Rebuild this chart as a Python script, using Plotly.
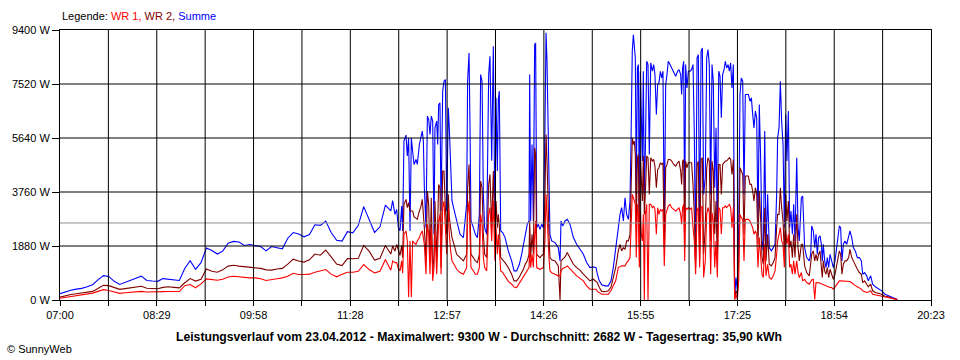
import pandas as pd
import plotly.graph_objects as go

# ---------------- data ----------------
# time of each sample, in minutes after 07:00 on 23.04.2012
minutes_after_7 = [
    0, 5, 10, 15, 20, 25, 30, 35, 40, 45, 50, 55,
    60, 65, 70, 75, 80, 85, 90, 95, 100, 105, 110, 115,
    120, 125, 130, 135, 140, 145, 150, 155, 160, 165, 170, 175,
    180, 185, 190, 195, 200, 205, 210, 215, 220, 225, 230, 235,
    240, 245, 250, 255, 260, 265, 270, 275, 280, 285, 290, 295,
    300, 305,
    306.7, 308.8, 310.4, 311.9, 313.5, 315.0, 315.9, 317.1, 319.0, 320.2, 321.4, 322.7,
    323.9, 325.1, 326.4, 328.2, 329.4, 331.3, 332.5, 334.0, 335.0, 335.9, 337.4, 338.7,
    339.9, 341.1, 342.3, 343.6, 344.8, 345.7, 347.3, 348.2, 349.1, 350.3, 351.3, 352.8,
    354.0, 355.3, 356.5, 358.0, 358.9, 360.2, 361.4, 363.2, 365.7, 368.8, 371.9, 374.9,
    375.8, 377.1, 378.0, 378.9, 381.1, 382.9, 384.8, 386.6, 387.8, 389.1, 390.3, 391.5,
    393.4, 395.2, 396.4, 398.0, 399.5, 401.0, 402.0, 403.2, 404.1,
    405.0, 406.3, 408.1, 410.3, 413.3, 416.4, 418.6, 421.0, 423.5, 425.6, 427.2, 429.0,
    430.8, 432.4, 433.0, 433.9, 435.2, 436.4, 437.6, 438.5, 439.5, 441.0, 442.5, 444.1,
    445.6, 447.1, 448.1, 449.0, 449.9, 450.8, 451.7, 453.3, 456.4, 459.4, 461.0, 461.9,
    463.4, 465.6, 467.7, 470.2, 473.3, 476.3, 479.4, 482.5, 485.5, 488.6, 491.7, 494.2,
    495.4, 497.2,
    499.4, 502.4, 505.5, 508.0, 510.1, 512.3, 514.7, 516.3, 517.8, 519.4, 520.9, 522.4,
    524.0, 525.5, 526.4, 527.6, 528.6, 529.5, 530.4, 531.3, 532.3, 533.2, 534.1, 535.0,
    535.9, 536.9, 537.8, 538.7, 539.6, 540.9, 542.1, 543.3, 544.6, 546.1, 547.3, 548.5,
    549.8, 551.0, 552.2, 553.5, 554.7, 555.9, 557.1, 558.4, 559.6, 560.8, 562.4, 563.9,
    565.8, 567.6, 569.4, 570.7, 572.2, 573.1, 574.0, 575.0, 575.9, 576.8, 578.0, 579.3,
    580.8, 582.3, 583.6, 584.8, 586.0, 587.3, 588.5, 589.7, 591.0, 592.2, 593.4,
    594.9, 596.2, 597.4, 598.6, 599.9, 601.1, 602.3, 603.6, 604.8, 606.0, 607.3, 608.5,
    609.7, 610.9, 612.2, 613.4, 614.6, 615.9, 617.1, 618.3, 619.5, 620.8, 622.0, 623.2,
    624.5, 625.7, 626.9, 628.1, 629.4, 630.6, 631.8, 633.1, 634.6, 636.1, 637.4, 638.6,
    639.8, 641.1, 642.3, 643.5, 644.7, 646.0, 647.2, 648.4, 649.7, 650.9, 652.4, 653.9,
    655.8, 657.6, 659.2, 660.7, 661.6, 662.9, 664.1, 665.3, 666.6, 667.8, 669.0, 670.2,
    671.5, 672.7, 673.9, 675.2, 676.4, 677.6, 679.2, 680.4, 681.6, 683.5, 684.7, 686.5,
    688.4, 690.8,
    692.1, 693.0, 694.5, 695.8, 697.0, 698.2, 699.4, 700.7, 701.9, 702.8, 703.7, 705.0,
    706.2, 707.4, 708.7, 709.9, 711.4, 713.0, 714.5, 716.0, 717.3, 718.5, 719.7, 720.9,
    722.2, 723.7, 725.3, 727.1, 728.3, 729.9, 731.4, 733.2, 735.1, 736.9, 738.8, 740.0,
    741.8, 743.7, 745.2, 747.4, 749.2, 751.7, 754.4, 757.5, 760.6, 763.7, 766.7, 769.8,
    771.9,
]

summe_w = [
    220, 290, 340, 380, 405, 460, 530, 700, 850, 820, 650, 540,
    620, 690, 760, 830, 680, 660, 650, 745, 730, 710, 680, 1100,
    1370, 1070, 1300, 1810, 1720, 1600, 1700, 1980, 2040, 2020, 1900, 1930,
    1900, 1860, 1710, 1860, 1820, 1780, 2150, 2350, 2300, 2200, 2280, 2620,
    2600, 2750, 2350, 2080, 2050, 2380, 2340, 2600, 3250, 2800, 2350, 2550,
    3300, 3100,
    3458, 2982, 3156, 2519, 2415, 3273, 2405, 5532, 5741, 5011, 5647, 2405,
    5647, 5185, 4719, 4893, 4719, 5414, 5647, 5880, 5532, 3909, 2519, 6401,
    6284, 5762, 6401, 6227, 2287, 5994, 6227, 5414, 6804, 6863, 3100, 7270,
    7617, 7673, 3100, 6689, 5994, 4490, 3447, 3156, 2752, 2287, 2172, 3329,
    7617, 8601, 5994, 2752, 2519, 2287, 2172, 2982, 7847, 7617, 3677, 2519,
    2287, 7847, 8486, 4852, 8833, 2519, 7037, 4490, 6978,
    7270, 2405, 2346, 2172, 1710, 1362, 1015, 1015, 1244, 1592, 1939, 2287,
    2634, 2752, 7847, 2752, 5414, 2752, 8889, 8948, 2519, 2634, 2460, 2634,
    2519, 5994, 9300, 8312, 5647, 3677, 2287, 2057, 1998, 1824, 1362, 2752,
    2578, 2752, 2808, 2634, 2172, 1939, 1765, 1592, 1303, 1129, 1154, 1129,
    897, 667,
    528, 493, 493, 667, 1129, 1824, 2405, 2982, 3214, 2752, 3562, 2982,
    2808, 3447, 5414, 8660, 9237, 8889, 8427, 3677, 8079, 8195, 2752, 7964,
    6575, 4837, 7964, 3677, 5067, 8312, 8195, 5067, 8253, 7964, 8195, 7847,
    6457, 7499, 7558, 7964, 7732, 7964, 2519, 7499, 7847, 8312, 8195, 8079,
    7906, 7791, 7964, 8021, 7847, 7152, 8079, 8312, 2752, 8195, 7384, 7964,
    7964, 8021, 8195, 5762, 1362, 8427, 8543, 1939, 8660, 8774, 3677,
    4257, 8427, 8716, 8195, 3677, 8195, 7617, 3909, 5994, 2057, 7964, 7791,
    6342, 7847, 8021, 8312, 8079, 8195, 7964, 8253, 7384, 8195, 87, 782,
    320, 2519, 7152, 7732, 7617, 3677, 7152, 7152, 7152, 6921, 7037, 6457,
    5994, 6575, 6342, 2519, 6804, 4837, 2057, 1710, 5880, 1824, 3677, 1824,
    1710, 1824, 1939, 3677, 5647, 5994, 7617, 6227, 5414, 2519, 6457, 4837,
    6575, 2519, 3100, 2287, 3329, 2057, 4952, 2519, 2057, 3562, 3621, 1824,
    1477, 1362,
    1592, 2578, 2405, 1824, 2287, 1592, 2172, 2231, 1939, 1362, 1939, 1362,
    1129, 1477, 1129, 1592, 1362, 1129, 1362, 1824, 2405, 2578, 2519, 1362,
    1939, 2057, 1939, 2172, 2405, 2172, 1824, 1710, 1477, 1477, 1362, 897,
    956, 841, 667, 841, 549, 459, 389, 320, 202, 146, 87, 42,
    17,
]

wr2_w = [
    100, 150, 190, 220, 240, 265, 300, 400, 510, 500, 430, 370,
    395, 424, 450, 480, 410, 395, 390, 440, 459, 440, 424, 600,
    747, 660, 720, 1080, 1000, 966, 1050, 1180, 1209, 1180, 1165, 1154,
    1130, 1100, 1050, 1040, 1080, 1100, 1250, 1420, 1360, 1320, 1400, 1600,
    1560, 1740, 1500, 1250, 1200, 1440, 1435, 1450, 1900, 1700, 1390, 1450,
    1900, 1600,
    1880, 1700, 1939, 1710, 1550, 1900, 1477, 3329, 3503, 3214, 3388, 3100,
    3100, 3100, 2900, 2840, 2808, 3100, 3214, 3503, 2982, 2519, 1362, 3795,
    3329, 1362, 3562, 897, 1592, 3447, 1362, 3000, 4024, 3909, 1129, 4490,
    4490, 3214, 2287, 3677, 2900, 2500, 2172, 1939, 1592, 1477, 1362, 1592,
    3909, 4719, 3329, 1592, 1477, 1362, 1303, 1592, 4142, 3909, 2287, 1592,
    1477, 4024, 4372, 2519, 4490, 2057, 3447, 2519, 2982,
    2600, 1477, 1400, 1300, 1129, 897, 667, 667, 800, 950, 1070, 1250,
    1362, 1592, 2752, 1477, 2287, 1592, 5299, 5067, 1592, 1530, 1477, 1550,
    1592, 3677, 5762, 4837, 2982, 2287, 1477, 1400, 1362, 1188, 0, 1362,
    1420, 1500, 1650, 1477, 1244, 1129, 1040, 900, 782, 667, 723, 650,
    608, 434,
    300, 290, 320, 450, 800, 1129, 1710, 1939, 1710, 1824, 1765, 2057,
    2057, 2287, 3677, 5647, 5414, 5532, 5067, 2519, 4952, 5067, 1824, 5011,
    4257, 3447, 5011, 2982, 3677, 5011, 4952, 3677, 4952, 4837, 4893, 4663,
    3909, 4545, 4604, 4778, 4719, 4778, 1824, 4604, 4719, 4893, 4893, 4837,
    4719, 4663, 4778, 4837, 4490, 4024, 4837, 4893, 1824, 4837, 4604, 4778,
    4778, 4778, 4024, 2982, 1129, 4700, 4837, 1362, 4893, 4952, 1592,
    2519, 4604, 4952, 4837, 2057, 4837, 4490, 2287, 3447, 1362, 4719, 4719,
    3677, 4719, 4778, 4837, 4837, 4893, 4952, 4893, 4372, 4893, 17, 320,
    202, 1362, 4604, 4490, 4372, 2287, 4315, 4315, 4315, 4024, 4024, 3795,
    3447, 3909, 3677, 1939, 3795, 2752, 1477, 1244, 3214, 1362, 2287, 1244,
    1188, 1303, 1477, 2519, 2982, 2982, 3909, 3214, 2752, 1592, 3677, 2752,
    3447, 1824, 2057, 1477, 2287, 1477, 2982, 1824, 1362, 1939, 1939, 1188,
    956, 841,
    1362, 1592, 1710, 1362, 1592, 1362, 1592, 1710, 1129, 782, 1362, 1015,
    897, 1129, 782, 1070, 897, 723, 897, 1244, 1592, 1710, 1592, 897,
    1244, 1362, 1362, 1477, 1765, 1477, 1362, 1188, 1070, 956, 897, 608,
    667, 549, 459, 549, 320, 261, 226, 202, 132, 111, 63, 28,
    17,
]

wr1_w = [
    60, 90, 120, 150, 170, 200, 240, 300, 360, 330, 270, 230,
    250, 270, 285, 300, 280, 275, 271, 290, 295, 290, 295, 500,
    540, 424, 560, 737, 710, 688, 720, 800, 827, 810, 770, 770,
    770, 740, 680, 720, 740, 771, 830, 930, 890, 886, 900, 966,
    1020, 1060, 900, 806, 900, 966, 966, 1000, 1234, 1060, 945, 1000,
    1407, 1036,
    1362, 1300, 1303, 1100, 1015, 1362, 930, 2287, 2405, 2057, 100, 2057,
    100, 2057, 1990, 1939, 2057, 2172, 2300, 2405, 2172, 1939, 897, 2634,
    2287, 897, 2519, 667, 1129, 2405, 897, 2100, 2752, 2982, 897, 3214,
    3447, 2519, 1592, 3214, 2300, 1700, 1362, 1244, 1070, 956, 897, 1129,
    2982, 3447, 2519, 1129, 1015, 897, 897, 1129, 2982, 2634, 1477, 1129,
    1015, 2982, 3214, 2057, 3447, 1362, 2519, 1592, 2287,
    1700, 1015, 960, 841, 650, 549, 450, 434, 580, 700, 782, 900,
    1015, 1129, 1824, 1129, 1592, 1129, 2287, 2752, 1129, 1100, 1070, 1100,
    1129, 2057, 3677, 2982, 1939, 1477, 1015, 950, 897, 841, 841, 1015,
    1100, 1129, 1188, 1100, 960, 841, 750, 667, 493, 375, 375, 375,
    300, 261,
    202, 202, 202, 330, 500, 667, 1129, 1160, 1188, 1188, 1188, 1300,
    1362, 1477, 2519, 3677, 3562, 3447, 3329, 1477, 3329, 2982, 1129, 3100,
    2287, 2057, 2982, 0, 2982, 3329, 0, 3329, 3329, 3214, 3273, 3156,
    2287, 3214, 2982, 3156, 3100, 3156, 1188, 2982, 3156, 3273, 3329, 3214,
    3156, 3100, 3156, 3214, 2982, 2634, 3214, 3329, 1362, 3214, 3156, 3214,
    3156, 3214, 2519, 2057, 897, 3100, 3214, 1129, 3214, 3273, 782,
    1362, 2982, 3214, 3041, 897, 3041, 2752, 1129, 2057, 782, 3214, 3156,
    2287, 3214, 3214, 3273, 3214, 3273, 3329, 3214, 2519, 3214, 17, 202,
    17, 667, 2982, 2867, 2808, 1362, 2808, 2808, 2808, 2752, 2634, 2519,
    2287, 2405, 2287, 1129, 2172, 1592, 897, 782, 1939, 841, 1244, 782,
    723, 841, 1015, 1592, 2057, 2287, 2519, 2057, 1939, 1129, 2405, 1939,
    2287, 1129, 1244, 897, 1362, 897, 1362, 956, 782, 956, 667, 723,
    608, 549,
    667, 700, 723, 17, 608, 608, 600, 580, 560, 549, 530, 510,
    493, 470, 434, 434, 434, 375, 450, 549, 600, 667, 667, 667,
    667, 667, 660, 650, 643, 600, 549, 500, 460, 434, 380, 320,
    300, 261, 280, 320, 202, 180, 146, 130, 111, 90, 63, 30,
    17,
]

y_tick_values = [0, 1880, 3760, 5640, 7520, 9400]
y_tick_labels = ["0 W", "1880 W", "3760 W", "5640 W", "7520 W", "9400 W"]
x_tick_labels = ["07:00", "08:29", "09:58", "11:28", "12:57",
                 "14:26", "15:55", "17:25", "18:54", "20:23"]
average_w = 2682
day = "2012-04-23"
day_start = "07:00"
day_span_min = 803  # 07:00 .. 20:23

title_text = ("Leistungsverlauf vom 23.04.2012 - Maximalwert: 9300 W - "
              "Durchschnitt: 2682 W - Tagesertrag: 35,90 kWh")

# ---------------- figure ----------------
base = pd.Timestamp(f"{day} {day_start}")
times = [base + pd.Timedelta(minutes=m) for m in minutes_after_7]
x_end = base + pd.Timedelta(minutes=day_span_min)

n_grid = 2 * (len(x_tick_labels) - 1)
grid_times = [base + pd.Timedelta(minutes=day_span_min * k / n_grid) for k in range(n_grid + 1)]
grid_text = [x_tick_labels[k // 2] if k % 2 == 0 else "" for k in range(n_grid + 1)]

FONT = "Liberation Sans, Arial, sans-serif"

fig = go.Figure()
fig.add_trace(go.Scatter(x=times, y=summe_w, mode="lines", name="Summe",
                         line=dict(color="#0000FF", width=1.1)))
fig.add_trace(go.Scatter(x=times, y=wr2_w, mode="lines", name="WR 2",
                         line=dict(color="#800000", width=1.1)))
fig.add_trace(go.Scatter(x=times, y=wr1_w, mode="lines", name="WR 1",
                         line=dict(color="#FF0000", width=1.1)))

shapes = []
# average line
shapes.append(dict(type="line", xref="paper", x0=0, x1=1, yref="y",
                   y0=average_w, y1=average_w, layer="above",
                   line=dict(color="#8C8C8C", width=1)))
for t in grid_times[1:-1]:
    shapes.append(dict(type="line", xref="x", x0=t, x1=t, yref="paper", y0=0, y1=1,
                       layer="above", line=dict(color="black", width=1)))
for v in y_tick_values[1:-1]:
    shapes.append(dict(type="line", xref="paper", x0=0, x1=1, yref="y", y0=v, y1=v,
                       layer="above", line=dict(color="black", width=1)))

fig.update_layout(
    width=960, height=360,
    margin=dict(l=60, r=29, t=30, b=60),
    paper_bgcolor="white", plot_bgcolor="white",
    showlegend=False, hovermode=False,
    font=dict(family=FONT, size=11, color="black"),
    shapes=shapes,
    xaxis=dict(range=[base, x_end], tickmode="array", tickvals=grid_times,
               ticktext=grid_text, ticks="outside", ticklen=5, tickcolor="black",
               showgrid=False, zeroline=False, showline=True, mirror=True,
               linecolor="black", linewidth=1, layer="above traces",
               tickfont=dict(family=FONT, size=11, color="black")),
    yaxis=dict(range=[0, 9400], tickmode="array", tickvals=y_tick_values,
               ticktext=y_tick_labels, ticks="outside", ticklen=7, tickcolor="black",
               showgrid=False, zeroline=False, showline=True, mirror=True,
               linecolor="black", linewidth=1, layer="above traces",
               tickfont=dict(family=FONT, size=11, color="black")),
    annotations=[
        dict(xref="paper", yref="paper", x=0, y=1.052, xanchor="left", yanchor="middle",
             showarrow=False, font=dict(family=FONT, size=11, color="black"),
             text=("Legende: <span style='color:#FF0000'>WR 1, </span>"
                   "<span style='color:#800000'>WR 2, </span>"
                   "<span style='color:#0000FF'>Summe</span>")),
        dict(xref="paper", yref="paper", x=0.481, y=-0.137, xanchor="center",
             yanchor="middle", showarrow=False,
             font=dict(family=FONT, size=12.2, color="black"),
             text=f"<b>{title_text}</b>"),
        dict(xref="paper", yref="paper", x=-0.063, y=-0.181, xanchor="left",
             yanchor="middle", showarrow=False,
             font=dict(family=FONT, size=11, color="black"),
             text="© SunnyWeb"),
    ],
)

fig.write_html("out.html",
               config={"displayModeBar": False},
               post_script="document.body.style.margin='0';document.body.style.padding='0';")
